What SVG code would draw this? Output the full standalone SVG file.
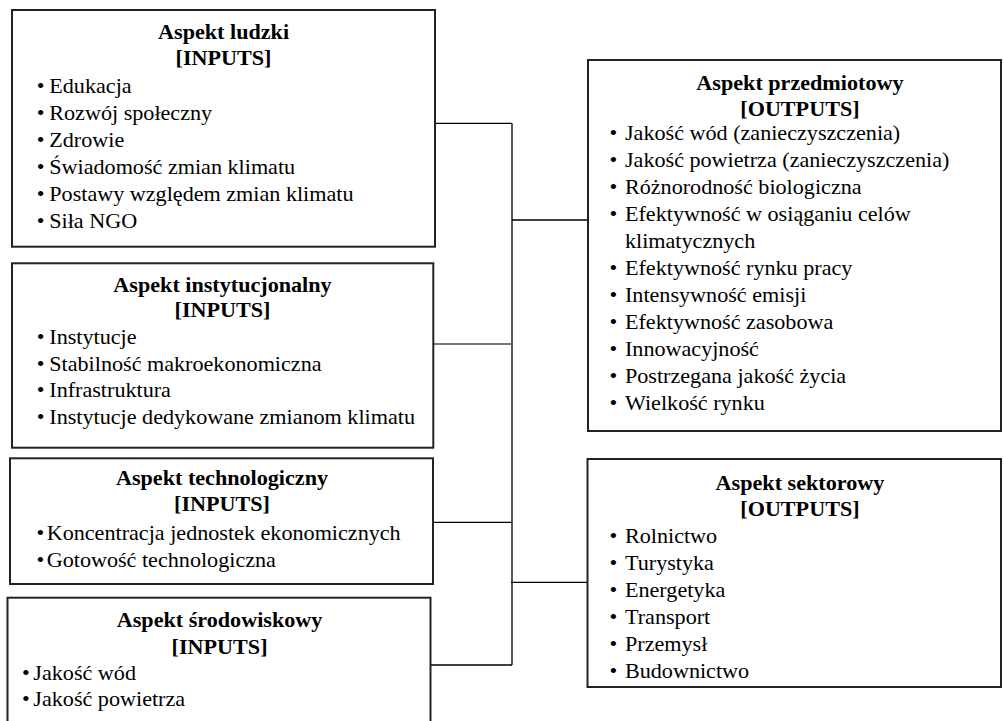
<svg xmlns="http://www.w3.org/2000/svg" width="1004" height="721" viewBox="0 0 1004 721">
<style>
.box{fill:#fff;stroke:#222;stroke-width:2}
.t{font-family:'Liberation Serif','Times New Roman',serif;font-size:21.5px;fill:#000}
.h{font-weight:bold;text-anchor:middle}
.ln{stroke:#000;stroke-width:1.3;fill:none}
.lg{stroke:#777;stroke-width:2;fill:none}
</style>
<rect width="1004" height="721" fill="#fff"/>
<g id="connectors">
<line class="ln" x1="433" y1="123.3" x2="512" y2="123.3"/>
<line class="ln" x1="512" y1="123.3" x2="512" y2="665"/>
<line class="ln" x1="512" y1="220" x2="588" y2="220"/>
<line class="lg" x1="433" y1="344" x2="511" y2="344"/>
<line class="ln" x1="430" y1="522.3" x2="512" y2="522.3"/>
<line class="ln" x1="511" y1="582.3" x2="587" y2="582.3"/>
<line class="ln" x1="430" y1="665" x2="512" y2="665"/>
</g>
<g id="ludzki">
<rect class="box" x="12" y="10" width="423" height="236.7"/>
<g transform="translate(36.8 0) scale(1.03 1)">
<text class="t h" x="181.3" y="39">Aspekt ludzki</text>
<text class="t h" x="181.3" y="65">[INPUTS]</text>
<text class="t"><tspan x="0" y="92.7">•</tspan><tspan x="12.1">Edukacja</tspan></text>
<text class="t"><tspan x="0" y="119.7">•</tspan><tspan x="12.1">Rozwój społeczny</tspan></text>
<text class="t"><tspan x="0" y="146.7">•</tspan><tspan x="12.1">Zdrowie</tspan></text>
<text class="t"><tspan x="0" y="173.7">•</tspan><tspan x="12.1">Świadomość zmian klimatu</tspan></text>
<text class="t"><tspan x="0" y="200.7">•</tspan><tspan x="12.1">Postawy względem zmian klimatu</tspan></text>
<text class="t"><tspan x="0" y="227.7">•</tspan><tspan x="12.1">Siła NGO</tspan></text>
</g>
</g>
<g id="instytucjonalny">
<rect class="box" x="12" y="263.3" width="421.3" height="184.4"/>
<g transform="translate(36.8 0) scale(1.03 1)">
<text class="t h" x="180.3" y="292">Aspekt instytucjonalny</text>
<text class="t h" x="180.3" y="317.5">[INPUTS]</text>
<text class="t"><tspan x="0" y="344">•</tspan><tspan x="12.1">Instytucje</tspan></text>
<text class="t"><tspan x="0" y="371">•</tspan><tspan x="12.1">Stabilność makroekonomiczna</tspan></text>
<text class="t"><tspan x="0" y="397.5">•</tspan><tspan x="12.1">Infrastruktura</tspan></text>
<text class="t"><tspan x="0" y="424.5">•</tspan><tspan x="12.1">Instytucje dedykowane zmianom klimatu</tspan></text>
</g>
</g>
<g id="technologiczny">
<rect class="box" x="10" y="458.3" width="423" height="125.7"/>
<g transform="translate(36.6 0) scale(1.03 1)">
<text class="t h" x="180" y="485.5">Aspekt technologiczny</text>
<text class="t h" x="180" y="511.5">[INPUTS]</text>
<text class="t"><tspan x="0" y="539.7">•</tspan><tspan x="9.8">Koncentracja jednostek ekonomicznych</tspan></text>
<text class="t"><tspan x="0" y="566.7">•</tspan><tspan x="9.8">Gotowość technologiczna</tspan></text>
</g>
</g>
<g id="srodowiskowy">
<rect class="box" x="7.5" y="597.7" width="423" height="140"/>
<g transform="translate(22.1 0) scale(1.03 1)">
<text class="t h" x="191.7" y="627.5">Aspekt środowiskowy</text>
<text class="t h" x="191.7" y="654">[INPUTS]</text>
<text class="t"><tspan x="0" y="680">•</tspan><tspan x="10.9">Jakość wód</tspan></text>
<text class="t"><tspan x="0" y="706.5">•</tspan><tspan x="10.9">Jakość powietrza</tspan></text>
</g>
</g>
<g id="przedmiotowy">
<rect class="box" x="588" y="60" width="413" height="371"/>
<g transform="translate(609.4 0) scale(1.03 1)">
<text class="t h" x="185" y="90.5">Aspekt przedmiotowy</text>
<text class="t h" x="185" y="116">[OUTPUTS]</text>
<text class="t"><tspan x="0" y="140.5">•</tspan><tspan x="15.1">Jakość wód (zanieczyszczenia)</tspan></text>
<text class="t"><tspan x="0" y="167.5">•</tspan><tspan x="15.1">Jakość powietrza (zanieczyszczenia)</tspan></text>
<text class="t"><tspan x="0" y="194.5">•</tspan><tspan x="15.1">Różnorodność biologiczna</tspan></text>
<text class="t"><tspan x="0" y="221.5">•</tspan><tspan x="15.1">Efektywność w osiąganiu celów</tspan></text>
<text class="t" x="15.1" y="248.5">klimatycznych</text>
<text class="t"><tspan x="0" y="275.5">•</tspan><tspan x="15.1">Efektywność rynku pracy</tspan></text>
<text class="t"><tspan x="0" y="302.5">•</tspan><tspan x="15.1">Intensywność emisji</tspan></text>
<text class="t"><tspan x="0" y="329.5">•</tspan><tspan x="15.1">Efektywność zasobowa</tspan></text>
<text class="t"><tspan x="0" y="356.5">•</tspan><tspan x="15.1">Innowacyjność</tspan></text>
<text class="t"><tspan x="0" y="383.5">•</tspan><tspan x="15.1">Postrzegana jakość życia</tspan></text>
<text class="t"><tspan x="0" y="410.5">•</tspan><tspan x="15.1">Wielkość rynku</tspan></text>
</g>
</g>
<g id="sektorowy">
<rect class="box" x="587.5" y="459" width="413.5" height="228"/>
<g transform="translate(609.4 0) scale(1.03 1)">
<text class="t h" x="185" y="490.5">Aspekt sektorowy</text>
<text class="t h" x="185" y="516.5">[OUTPUTS]</text>
<text class="t"><tspan x="0" y="543.5">•</tspan><tspan x="15.1">Rolnictwo</tspan></text>
<text class="t"><tspan x="0" y="570.5">•</tspan><tspan x="15.1">Turystyka</tspan></text>
<text class="t"><tspan x="0" y="597.5">•</tspan><tspan x="15.1">Energetyka</tspan></text>
<text class="t"><tspan x="0" y="624.5">•</tspan><tspan x="15.1">Transport</tspan></text>
<text class="t"><tspan x="0" y="651.5">•</tspan><tspan x="15.1">Przemysł</tspan></text>
<text class="t"><tspan x="0" y="678.5">•</tspan><tspan x="15.1">Budownictwo</tspan></text>
</g>
</g>
</svg>
